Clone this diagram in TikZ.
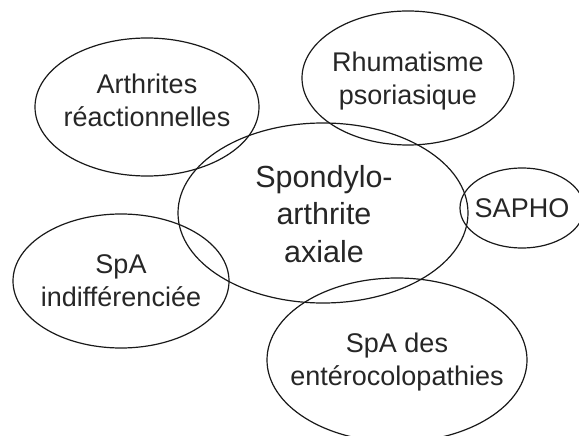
\documentclass[tikz,border=0pt]{standalone}
\usepackage{fontspec}
\setmainfont{Liberation Sans}
\usetikzlibrary{shapes.geometric}

\tikzset{
  bubble/.style={ellipse, draw=black!90, line width=1.2pt, inner sep=0pt},
  lbl/.style={align=center, inner sep=0pt, text=black!85, font=\fontsize{27}{33}\selectfont}
}

\begin{document}
\begin{tikzpicture}[x=1pt, y=-1pt]
        \useasboundingbox (0,0) rectangle (579,436);

        % Ellipses
        \node[bubble, minimum width=290pt, minimum height=180pt] (axial) at (323,213) {};
        \node[bubble, minimum width=224pt, minimum height=138pt] (arth) at (147,107) {};
        \node[bubble, minimum width=212pt, minimum height=134pt] (rhum) at (408,78) {};
        \node[bubble, minimum width=124pt, minimum height=80pt] (sapho) at (522,208) {};
        \node[bubble, minimum width=216pt, minimum height=134pt] (indiff) at (121,281) {};
        \node[bubble, minimum width=260pt, minimum height=164pt] (entero) at (397,360) {};

        % Labels
        \node[lbl, font=\fontsize{30.5}{37.5}\selectfont] (axialtxt) at (324,214) {Spondylo-\\arthrite\\axiale};
        \node[lbl] (arthtxt) at (147,100) {Arthrites\\réactionnelles};
        \node[lbl] (rhumtxt) at (408,81) {Rhumatisme\\psoriasique};
        \node[lbl] (saphotxt) at (522,208) {SAPHO};
        \node[lbl] (indifftxt) at (121,281) {SpA\\indifférenciée};
        \node[lbl] (enterotxt) at (397,362) {SpA des\\entérocolopathies};
    \end{tikzpicture}
\end{document}
